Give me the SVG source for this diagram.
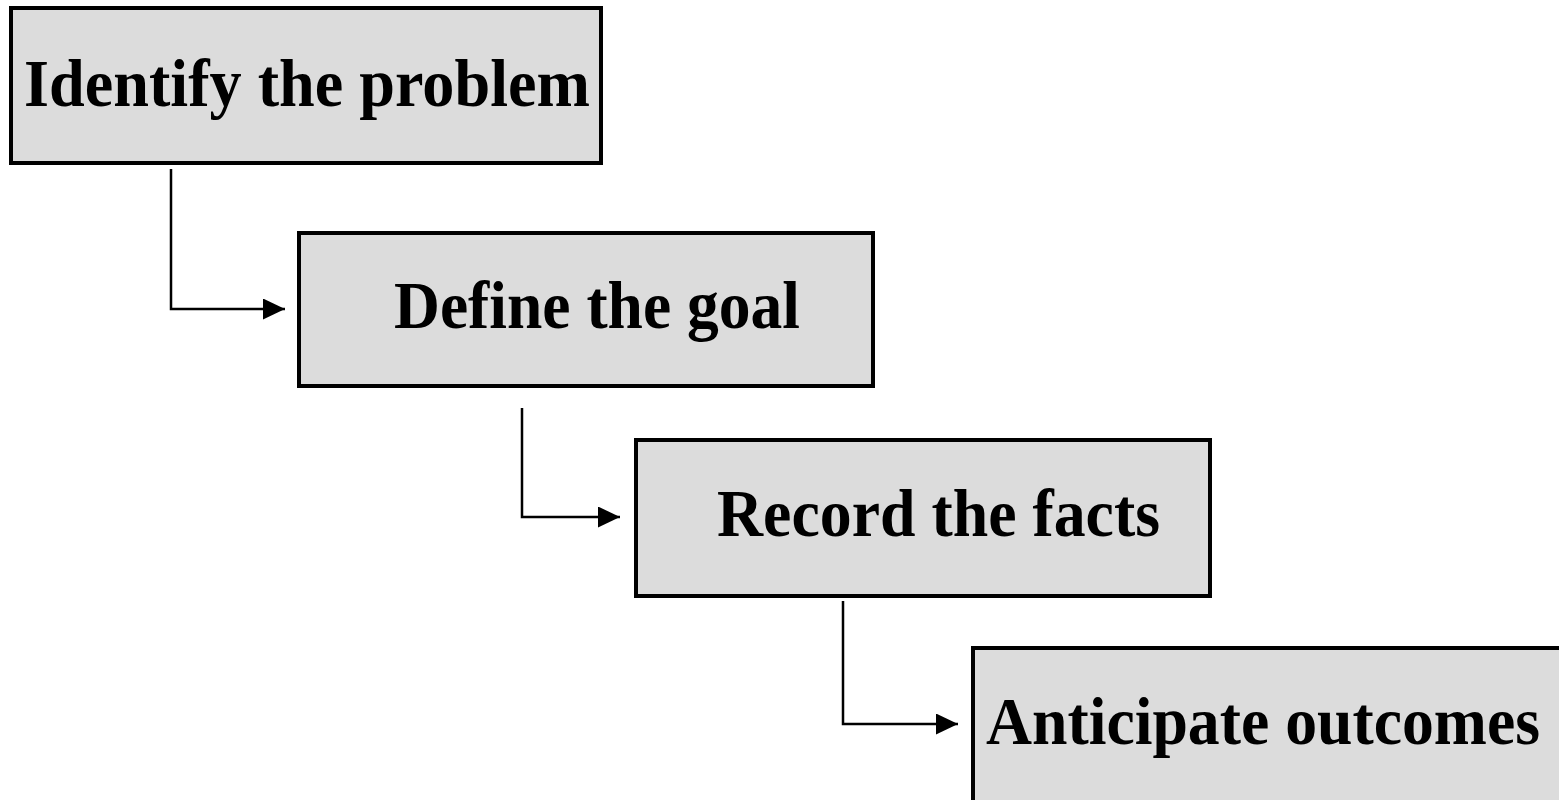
<svg xmlns="http://www.w3.org/2000/svg" width="1559" height="800" viewBox="0 0 1559 800">
  <style>
    .box { fill: #dcdcdc; stroke: #000; stroke-width: 4; }
    .label { font-family: "Liberation Serif", "Times New Roman", serif; font-weight: bold; font-size: 67px; fill: #000; }
    .link { fill: none; stroke: #000; stroke-width: 2.5; }
  </style>
  <defs>
    <marker id="arrow" viewBox="0 0 22 21" refX="22" refY="10.5" markerWidth="22" markerHeight="21" markerUnits="userSpaceOnUse" orient="auto">
      <path d="M0,0 L22,10.5 L0,21 Z" fill="#000"/>
    </marker>
  </defs>

  <g id="node-identify">
    <rect class="box" x="11" y="8" width="590" height="155"/>
    <text class="label" x="24" y="106" textLength="566" lengthAdjust="spacingAndGlyphs">Identify the problem</text>
  </g>
  <g id="node-define">
    <rect class="box" x="299" y="233" width="574" height="153"/>
    <text class="label" x="394" y="328" textLength="406" lengthAdjust="spacingAndGlyphs">Define the goal</text>
  </g>
  <g id="node-record">
    <rect class="box" x="636" y="440" width="574" height="156"/>
    <text class="label" x="717" y="536" textLength="443" lengthAdjust="spacingAndGlyphs">Record the facts</text>
  </g>
  <g id="node-anticipate">
    <rect class="box" x="973" y="648" width="600" height="170"/>
    <text class="label" x="986" y="744" textLength="554" lengthAdjust="spacingAndGlyphs">Anticipate outcomes</text>
  </g>

  <g id="connectors">
    <path class="link" d="M171,169 V309 H285" marker-end="url(#arrow)"/>
    <path class="link" d="M522,408 V517 H620" marker-end="url(#arrow)"/>
    <path class="link" d="M843,601 V724 H958" marker-end="url(#arrow)"/>
  </g>
</svg>
